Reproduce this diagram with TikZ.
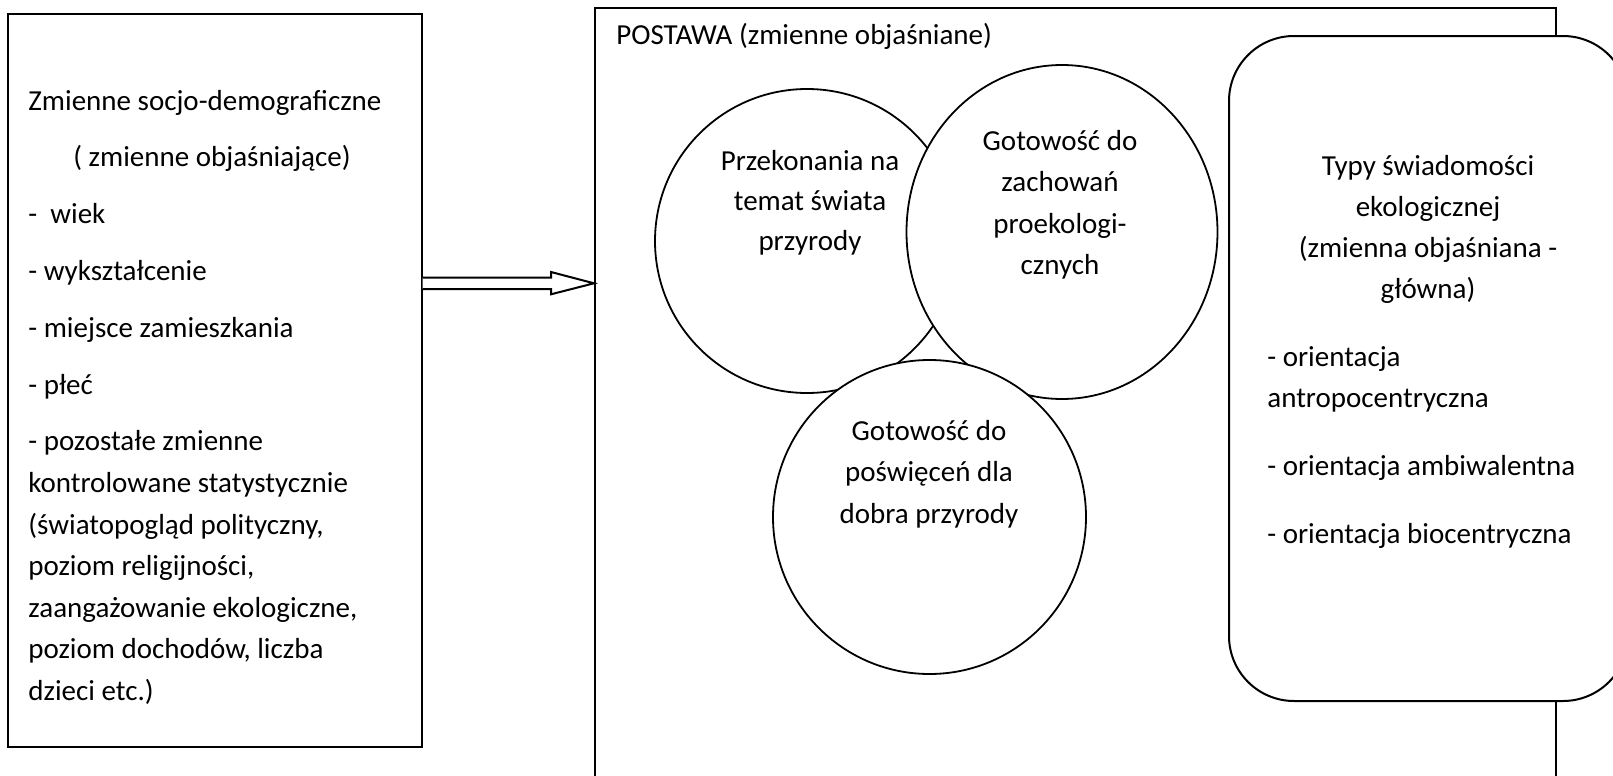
\documentclass[tikz,border=0pt]{standalone}
\usepackage{fontspec}
\setmainfont{Carlito}
\usetikzlibrary{shapes.geometric,calc}
\begin{document}
\begin{tikzpicture}[x=0.5pt,y=-0.5pt,
  txt/.style={inner sep=0pt, font=\fontsize{14.5pt}{20pt}\selectfont},
  ltxt/.style={txt, anchor=base west},
  ctxt/.style={txt, anchor=base},
  boxline/.style={draw=black, line width=1pt},
  bubble/.style={draw=black, line width=0.9pt, fill=white, ellipse, inner sep=0pt}]
\path[use as bounding box, clip] (0,0) rectangle (1613,776);
\fill[white] (0,0) rectangle (1613,776);

% boxes
\node[boxline, rectangle, inner sep=0pt, anchor=north west,
      minimum width=206.75pt, minimum height=366.5pt] (socio) at (7,13) {};
\node[boxline, rectangle, inner sep=0pt, anchor=north west,
      minimum width=480.5pt, minimum height=420pt] (postawa) at (594,7) {};

% hollow arrow
\coordinate (ay) at (0,283.3);
\coordinate (as) at (socio.east |- ay);
\coordinate (ae) at (postawa.west |- ay);
\draw[boxline, line join=miter, fill=white]
  ($(as)+(0,-5.6)$) -- ($(ae)+(-43,-5.6)$) -- ($(ae)+(-43,-11.3)$) -- (ae)
  -- ($(ae)+(-43,11)$) -- ($(ae)+(-43,5.7)$) -- ($(as)+(0,5.7)$);

% bubbles
\node[bubble, minimum width=152pt, minimum height=152pt] (c1) at (807,241) {};
\node[bubble, minimum width=155.5pt, minimum height=167pt] (c2) at (1062,232) {};
\node[bubble, minimum width=156.5pt, minimum height=157pt] (c3) at (929.5,517) {};

% rounded box
\node[boxline, fill=white, rectangle, rounded corners=32.5pt, inner sep=0pt,
      anchor=north west, minimum width=199.5pt, minimum height=332.5pt] (typy) at (1228,35) {};

% left box text
\node[ltxt] (s1) at (28,110) {Zmienne socjo-demograficzne};
\node[ctxt] (s2) at (212,166.8) {( zmienne objaśniające)};
\node[ltxt] (s3) at (28,223.6) {- \ wiek};
\node[ltxt] (s4) at (28,280.4) {- wykształcenie};
\node[ltxt] (s5) at (28,337.2) {- miejsce zamieszkania};
\node[ltxt] (s6) at (28,394) {- płeć};
\node[ltxt] (s7) at (28,450.8) {- pozostałe zmienne};
\node[ltxt] (s8) at (28,492.4) {kontrolowane statystycznie};
\node[ltxt] (s9) at (28,534) {(światopogląd polityczny,};
\node[ltxt] (s10) at (28,575.6) {poziom religijności,};
\node[ltxt] (s11) at (28,617.2) {zaangażowanie ekologiczne,};
\node[ltxt] (s12) at (28,658.8) {poziom dochodów, liczba};
\node[ltxt] (s13) at (28,700.4) {dzieci etc.)};

% title
\node[ltxt] (ptitle) at (616,45) {POSTAWA (zmienne objaśniane)};

% circle 1
\node[ctxt] (c1a) at (810,170) {Przekonania na};
\node[ctxt] (c1b) at (810,210) {temat świata};
\node[ctxt] (c1c) at (810,250) {przyrody};
% circle 2
\node[ctxt] (c2a) at (1060,150) {Gotowość do};
\node[ctxt] (c2b) at (1060,191.6) {zachowań};
\node[ctxt] (c2c) at (1060,233.2) {proekologi-};
\node[ctxt] (c2d) at (1060,274.8) {cznych};
% circle 3
\node[ctxt] (c3a) at (929,440) {Gotowość do};
\node[ctxt] (c3b) at (929,481.5) {poświęceń dla};
\node[ctxt] (c3c) at (929,523) {dobra przyrody};

% rounded box text
\node[ctxt] (t1) at (1428,175) {Typy świadomości};
\node[ctxt] (t2) at (1428,216) {ekologicznej};
\node[ctxt] (t3) at (1428,257) {(zmienna objaśniana -};
\node[ctxt] (t4) at (1428,298) {główna)};
\node[ltxt] (t5) at (1267,366) {- orientacja};
\node[ltxt] (t6) at (1267,407) {antropocentryczna};
\node[ltxt] (t7) at (1267,475) {- orientacja ambiwalentna};
\node[ltxt] (t8) at (1267,543) {- orientacja biocentryczna};
\end{tikzpicture}
\end{document}
